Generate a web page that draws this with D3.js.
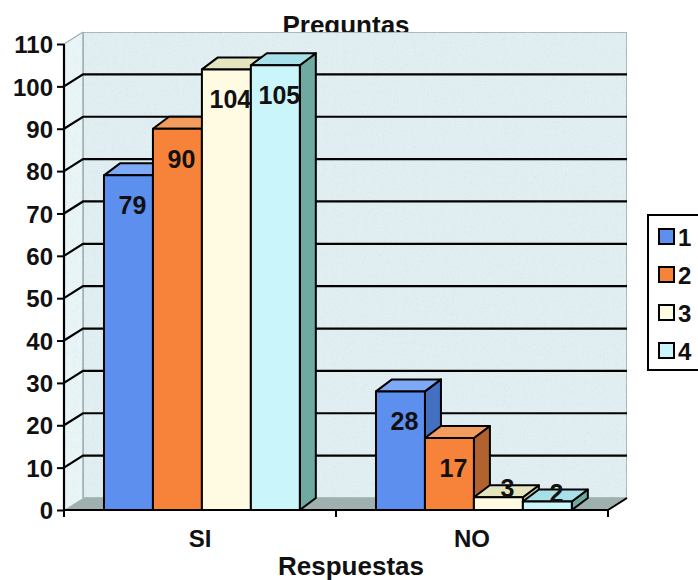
<!DOCTYPE html>
<html>
<head>
<meta charset="utf-8">
<script src="https://cdn.jsdelivr.net/npm/d3@7"></script>
<style>
  html, body { margin: 0; padding: 0; background: #ffffff; }
  svg { display: block; }
  text { font-family: "Liberation Sans", Arial, Helvetica, sans-serif; font-weight: bold; fill: #111; }
</style>
</head>
<body>
<svg id="chart" width="698" height="580"></svg>
<script>
// ---- data ----
const categories = ["SI", "NO"];
const seriesNames = ["1", "2", "3", "4"];
const serie1 = [79, 28];
const serie2 = [90, 17];
const serie3 = [104, 3];
const serie4 = [105, 2];
const yTicks = [0, 10, 20, 30, 40, 50, 60, 70, 80, 90, 100, 110];
const chartTitle = "Preguntas";
const xTitle = "Respuestas";

const allSeries = [serie1, serie2, serie3, serie4];
const palette = [
  { front: "#5d8fef", top: "#7ea9f6", side: "#4470c2" },
  { front: "#f7823a", top: "#f39c5e", side: "#b1622e" },
  { front: "#fffbe3", top: "#e4e5bf", side: "#c9c9a2" },
  { front: "#c9f5fb", top: "#a8e0ea", side: "#6ea9a2" }
];

// ---- geometry ----
const svg = d3.select("#chart");
const left = 64, right = 608, bottom = 510, topY = 44;
const WDX = 19, WDY = -12;   // wall depth offset
const BDX = 16, BDY = -12;   // bar depth offset

const y = d3.scaleLinear().domain([0, 110]).range([bottom, topY]);
const x0 = d3.scaleBand().domain(categories).range([left, right]).padding(0);
const bw = x0.bandwidth();
const x1 = d3.scaleBand().domain(seriesNames).range([bw * 0.147, bw * 0.867]).padding(0);

// noise texture filter
const defs = svg.append("defs");
const f = defs.append("filter").attr("id", "noise").attr("x", 0).attr("y", 0).attr("width", 1).attr("height", 1);
f.append("feTurbulence").attr("type", "fractalNoise").attr("baseFrequency", 0.9).attr("numOctaves", 2).attr("result", "n");
f.append("feColorMatrix").attr("in", "n").attr("type", "matrix")
  .attr("values", "0 0 0 0 0.62  0 0 0 0 0.70  0 0 0 0 0.72  0 0 0 -1.2 0.6").attr("result", "c");
f.append("feComposite").attr("in", "c").attr("in2", "SourceGraphic").attr("operator", "in").attr("result", "cc");
f.append("feMerge").selectAll("feMergeNode").data(["SourceGraphic", "cc"]).join("feMergeNode").attr("in", d => d);

// ---- title (partially hidden behind wall) ----
svg.append("text").attr("x", 346).attr("y", 34).attr("text-anchor", "middle")
  .style("font-size", "26px").text(chartTitle);

// ---- walls & floor ----
svg.append("polygon")
  .attr("points", [[left, bottom], [left + WDX, bottom + WDY], [left + WDX, topY + WDY], [left, topY]].join(" "))
  .attr("fill", "#eaf5f7").attr("filter", "url(#noise)");
svg.append("rect")
  .attr("x", left + WDX).attr("y", topY + WDY)
  .attr("width", right - left).attr("height", bottom - topY)
  .attr("fill", "#e1eef2").attr("filter", "url(#noise)")
  .attr("stroke", "#8fa8a8").attr("stroke-width", 1.5);
svg.append("polygon")
  .attr("points", [[left, bottom], [right, bottom], [right + WDX, bottom + WDY], [left + WDX, bottom + WDY]].join(" "))
  .attr("fill", "#9fb1af");
svg.append("line")
  .attr("x1", left + WDX).attr("x2", left + WDX).attr("y1", topY + WDY).attr("y2", bottom + WDY)
  .attr("stroke", "#9fb0b0").attr("stroke-width", 1.5);
svg.append("line")
  .attr("x1", left).attr("y1", topY).attr("x2", left + WDX).attr("y2", topY + WDY)
  .attr("stroke", "#9fb0b0").attr("stroke-width", 1.2);

// gridlines
const grid = svg.append("g");
yTicks.filter(v => v > 0 && v < 110).forEach(v => {
  grid.append("polyline")
    .attr("points", [[left, y(v)], [left + WDX, y(v) + WDY], [right + WDX, y(v) + WDY]].join(" "))
    .attr("fill", "none").attr("stroke", "#000").attr("stroke-width", 2.2);
});

// ---- axes ----
const yAxis = svg.append("g").attr("transform", `translate(${left},0)`)
  .call(d3.axisLeft(y).tickValues(yTicks).tickSize(7).tickPadding(4));
yAxis.select(".domain").attr("stroke", "#000").attr("stroke-width", 2.2).attr("d", `M0,${y(110)}V${bottom}`);
yAxis.selectAll(".tick line").attr("stroke", "#000").attr("stroke-width", 2);
yAxis.selectAll(".tick text").style("font-size", "24px").style("font-family", "'Liberation Sans', Arial, sans-serif")
  .style("font-weight", "bold").attr("fill", "#111").attr("dy", "0.36em");
yAxis.attr("font-size", null);

// x axis with ticks at band boundaries
const xAxisG = svg.append("g");
xAxisG.append("line").attr("x1", left).attr("x2", right).attr("y1", bottom).attr("y2", bottom)
  .attr("stroke", "#000").attr("stroke-width", 2.2);
xAxisG.append("line").attr("x1", right).attr("y1", bottom).attr("x2", right + WDX).attr("y2", bottom + WDY)
  .attr("stroke", "#000").attr("stroke-width", 2);
const bounds = categories.map(c => x0(c)).concat([x0(categories[categories.length - 1]) + bw]);
xAxisG.selectAll(".xt").data(bounds).join("line")
  .attr("x1", d => d).attr("x2", d => d).attr("y1", bottom).attr("y2", bottom + 7)
  .attr("stroke", "#000").attr("stroke-width", 2);
xAxisG.selectAll(".xl").data(categories).join("text")
  .attr("x", d => x0(d) + bw / 2).attr("y", 547).attr("text-anchor", "middle")
  .style("font-size", "24px").text(d => d);

// ---- bars ----
const barsG = svg.append("g");
categories.forEach((cat, ci) => {
  allSeries.forEach((ser, si) => {
    const v = ser[ci];
    const xl = x0(cat) + x1(seriesNames[si]);
    const xr = xl + x1.bandwidth();
    const yt = y(v), yb = y(0);
    const c = palette[si];
    const g = barsG.append("g").attr("stroke", "#000").attr("stroke-width", 2).attr("stroke-linejoin", "round");
    g.append("polygon").attr("points", [[xr, yt], [xr + BDX, yt + BDY], [xr + BDX, yb + BDY], [xr, yb]].join(" "))
      .attr("fill", c.side);
    g.append("polygon").attr("points", [[xl, yt], [xl + BDX, yt + BDY], [xr + BDX, yt + BDY], [xr, yt]].join(" "))
      .attr("fill", c.top);
    g.append("rect").attr("x", xl).attr("y", yt).attr("width", xr - xl).attr("height", yb - yt)
      .attr("fill", c.front);
  });
});

// ---- data labels ----
const labelsG = svg.append("g");
categories.forEach((cat, ci) => {
  allSeries.forEach((ser, si) => {
    const v = ser[ci];
    const cx = x0(cat) + x1(seriesNames[si]) + x1.bandwidth() / 2;
    const small = v < 10;
    labelsG.append("text")
      .attr("x", cx + (small ? 9 : 4))
      .attr("y", y(v) + (small ? -9 : 30))
      .attr("dy", "0.36em")
      .attr("text-anchor", "middle")
      .style("font-size", "25px")
      .text(v);
  });
});

// ---- axis title ----
svg.append("text").attr("x", 351).attr("y", 575).attr("text-anchor", "middle")
  .style("font-size", "26px").text(xTitle);

// ---- legend ----
const lg = svg.append("g");
lg.append("rect").attr("x", 648).attr("y", 215).attr("width", 80).attr("height", 155)
  .attr("fill", "#fff").attr("stroke", "#000").attr("stroke-width", 2);
const ly = d3.scalePoint().domain(seriesNames).range([237, 351]);
seriesNames.forEach((s, i) => {
  lg.append("rect").attr("x", 659).attr("y", ly(s) - 8).attr("width", 15).attr("height", 15)
    .attr("fill", palette[i].front).attr("stroke", "#000").attr("stroke-width", 2);
  lg.append("text").attr("x", 678).attr("y", ly(s)).attr("dy", "0.36em")
    .style("font-size", "24px").text(s);
});
</script>
</body>
</html>
